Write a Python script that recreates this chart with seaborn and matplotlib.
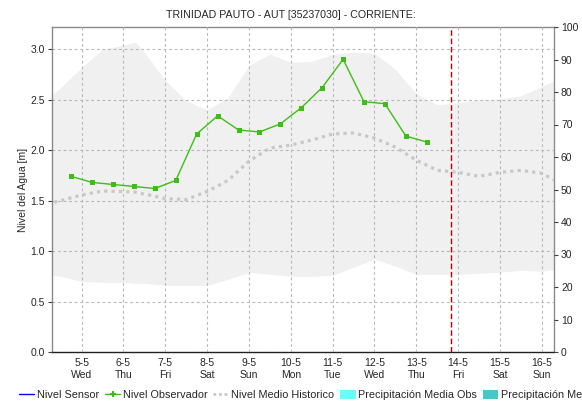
import matplotlib
matplotlib.use("Agg")
import matplotlib.pyplot as plt
from matplotlib.lines import Line2D
from matplotlib.patches import Patch
import seaborn as sns
import pandas as pd

# --- data -------------------------------------------------------------
title = "TRINIDAD PAUTO - AUT [35237030] - CORRIENTE:"

# manual level readings (twice a day)
obs_times = pd.date_range("2021-05-04 18:00", periods=18, freq="12h")
obs_level = [1.74, 1.68, 1.66, 1.64, 1.62, 1.70, 2.16, 2.34, 2.20,
             2.18, 2.26, 2.42, 2.62, 2.90, 2.48, 2.46, 2.14, 2.08]

# historical statistics
hist_times = pd.to_datetime([
    "2021-05-04 00:00", "2021-05-04 12:00", "2021-05-05 00:00", "2021-05-05 12:00",
    "2021-05-06 00:00", "2021-05-06 07:00", "2021-05-06 12:00", "2021-05-07 00:00",
    "2021-05-07 12:00", "2021-05-08 00:00", "2021-05-08 12:00", "2021-05-09 00:00",
    "2021-05-09 12:00", "2021-05-10 00:00", "2021-05-10 12:00", "2021-05-11 00:00",
    "2021-05-11 12:00", "2021-05-12 00:00", "2021-05-12 12:00", "2021-05-13 00:00",
    "2021-05-13 12:00", "2021-05-14 00:00", "2021-05-14 12:00", "2021-05-15 00:00",
    "2021-05-15 12:00", "2021-05-16 00:00", "2021-05-16 12:00"])
hist_max = [2.45, 2.62, 2.82, 3.00, 3.04, 3.07, 2.97, 2.69, 2.49, 2.40, 2.52, 2.84, 2.95,
            2.87, 2.88, 2.95, 2.97, 2.96, 2.80, 2.56, 2.45, 2.47, 2.50, 2.505, 2.54, 2.63, 2.73]
hist_min = [0.78, 0.75, 0.70, 0.69, 0.69, 0.68, 0.68, 0.66, 0.66, 0.66, 0.72, 0.79, 0.77,
            0.75, 0.75, 0.76, 0.84, 0.92, 0.85, 0.77, 0.77, 0.77, 0.78, 0.79, 0.81, 0.80, 0.83]
hist_mean = [1.45, 1.50, 1.556, 1.595, 1.59, 1.583, 1.565, 1.52, 1.51, 1.59, 1.70, 1.89, 2.02,
             2.05, 2.10, 2.16, 2.17, 2.12, 2.03, 1.90, 1.80, 1.78, 1.74, 1.78, 1.80, 1.77, 1.66]

now_time = pd.Timestamp("2021-05-13 20:00")

tick_days = pd.date_range("2021-05-05", "2021-05-16", freq="D")
day_labels = ["5-5", "6-5", "7-5", "8-5", "9-5", "10-5", "11-5", "12-5",
              "13-5", "14-5", "15-5", "16-5"]
weekday_labels = ["Wed", "Thu", "Fri", "Sat", "Sun", "Mon", "Tue", "Wed",
                  "Thu", "Fri", "Sat", "Sun"]
level_ticks = [0.0, 0.5, 1.0, 1.5, 2.0, 2.5, 3.0]
rain_ticks = list(range(0, 101, 10))

legend_labels = ["Nivel Sensor", "Nivel Observador", "Nivel Medio Historico",
                 "Precipitación Media Obs", "Precipitación Media Pronosticada"]

# --- style ------------------------------------------------------------
sns.set_theme(style="white")
plt.rcParams["font.family"] = ["Liberation Sans", "DejaVu Sans"]
plt.rcParams["font.size"] = 7.5

GREEN = "#3cbf14"
GRID = "#b8b8b8"
SPINE = "#8a8a8a"

fig = plt.figure(figsize=(5.82, 4.05), dpi=100)
ax = fig.add_axes([52 / 582, 1 - 352 / 405, (554 - 52) / 582, (352 - 27) / 405])

obs_df = pd.DataFrame({"time": obs_times, "nivel": obs_level})
hist_df = pd.DataFrame({"time": hist_times, "max": hist_max,
                        "min": hist_min, "mean": hist_mean})

# historical range band
ax.fill_between(hist_df["time"], hist_df["min"], hist_df["max"],
                color="#f0f0f0", linewidth=0, zorder=1)

# historical mean level
sns.lineplot(data=hist_df, x="time", y="mean", ax=ax, color="#c8c8c8",
             linewidth=2.3, linestyle=(0, (1, 1.3)), zorder=3)

# observed level
sns.lineplot(data=obs_df, x="time", y="nivel", ax=ax, color=GREEN,
             linewidth=1.0, marker="s", markersize=3.6, markeredgewidth=0, zorder=5)

# current time marker
ax.axvline(now_time, color="#b40000", linewidth=1.0, linestyle=(0, (4, 2)), zorder=6)

ax.set_xlim(pd.Timestamp("2021-05-04 07:00"), pd.Timestamp("2021-05-16 07:00"))
ax.set_ylim(0, 3.22)
ax.set_xticks(tick_days)
ax.set_xticklabels([f"{d}\n{w}" for d, w in zip(day_labels, weekday_labels)],
                   fontsize=7.5, linespacing=1.25)
ax.set_yticks(level_ticks)
ax.set_yticklabels([f"{v:.1f}" for v in level_ticks], fontsize=7.5)
ax.set_xlabel("")
ax.set_ylabel("Nivel del Agua [m]", fontsize=7.5, labelpad=2)

ax.grid(True, color=GRID, linestyle=(0, (2.5, 2.5)), linewidth=0.8, zorder=2)
ax.set_axisbelow(False)
for line in ax.get_xgridlines() + ax.get_ygridlines():
    line.set_zorder(2)

ax.tick_params(axis="y", which="major", length=3, width=0.8, color="#404040",
               direction="out", left=True, pad=2)
ax.tick_params(axis="x", which="major", length=0, pad=4)

for side in ["left", "right", "top"]:
    ax.spines[side].set_color(SPINE)
    ax.spines[side].set_linewidth(1.0)
ax.spines["bottom"].set_color("#202020")
ax.spines["bottom"].set_linestyle((0, (1, 1)))
ax.spines["bottom"].set_linewidth(1.0)

# precipitation axis
ax2 = ax.twinx()
ax2.set_ylim(0, 100)
ax2.set_yticks(rain_ticks)
ax2.set_yticklabels([str(v) for v in rain_ticks], fontsize=7.5)
ax2.tick_params(axis="y", length=3, width=0.8, color="#404040", direction="out",
                right=True, pad=2)
ax2.grid(False)
for side in ["left", "right", "top", "bottom"]:
    ax2.spines[side].set_visible(False)

fig.suptitle(title, x=0.5, y=1 - 15 / 405, va="center", fontsize=7.7)

handles = [
    Line2D([], [], color="#0000ff", linewidth=1.0),
    Line2D([], [], color=GREEN, linewidth=1.0, marker="+", markersize=4,
           markeredgewidth=1.5),
    Line2D([], [], color="#c8c8c8", linewidth=2.0, linestyle=(0, (1, 1))),
    Patch(facecolor="#66ffff", edgecolor="none"),
    Patch(facecolor="#44c8c8", edgecolor="none"),
]
fig.legend(handles, legend_labels, loc="center left",
           bbox_to_anchor=(19 / 582, 1 - 395 / 405), ncol=5, frameon=False,
           fontsize=7.8, handlelength=1.4, handleheight=0.9, handletextpad=0.25,
           columnspacing=0.55, borderaxespad=0, borderpad=0)

fig.savefig("out.png", dpi=100)
